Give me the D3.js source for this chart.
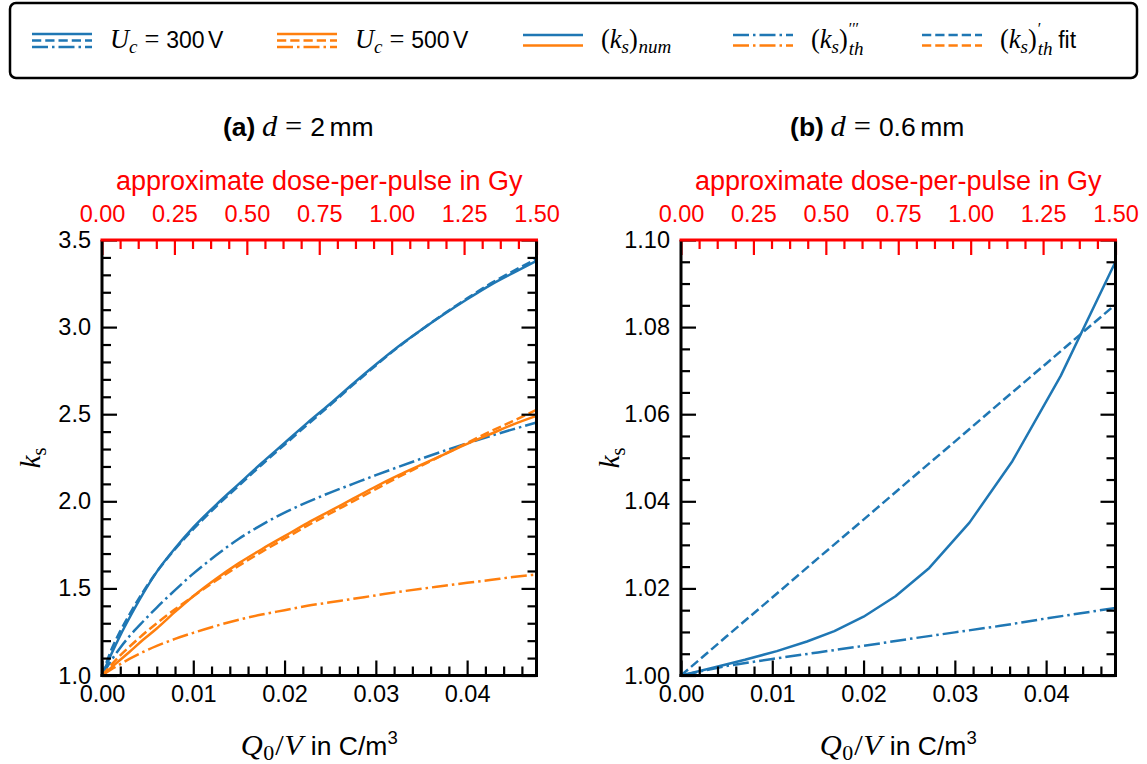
<!DOCTYPE html>
<html><head><meta charset="utf-8">
<script src="https://cdn.jsdelivr.net/npm/d3@7"></script>
<style>body{margin:0;background:#fff}</style>
</head><body><svg id="c" width="1147" height="764"></svg>
<script>
// ---------------- data ----------------
const xTicks=[0,0.01,0.02,0.03,0.04];
const xMax=0.0476;
const doseTicks=[0,0.25,0.5,0.75,1.0,1.25,1.5];
const doseMax=1.5;
const yTicksA=[1.0,1.5,2.0,2.5,3.0,3.5];
const yTicksB=[1.00,1.02,1.04,1.06,1.08,1.10];

// panel (a): d = 2 mm
const xA=[0,0.001,0.002,0.003,0.0045,0.006,0.008,0.010,0.0125,0.015,0.0175,0.020,0.0225,0.025,0.0275,0.030,0.0325,0.035,0.0375,0.040,0.0425,0.045,0.0476];
const numA300=[1.0,1.12,1.23,1.33,1.47,1.595,1.73,1.85,1.98,2.10,2.22,2.335,2.45,2.56,2.675,2.785,2.89,2.985,3.075,3.16,3.24,3.31,3.38];
const fitA300=[1.0,1.145,1.255,1.35,1.48,1.595,1.725,1.84,1.97,2.09,2.21,2.325,2.44,2.552,2.668,2.78,2.887,2.985,3.078,3.165,3.248,3.32,3.392];
const thA300=[1.0,1.085,1.16,1.225,1.31,1.39,1.49,1.585,1.69,1.785,1.865,1.935,1.995,2.05,2.10,2.15,2.198,2.245,2.29,2.333,2.374,2.413,2.452];
const numA500=[1.0,1.045,1.09,1.135,1.205,1.27,1.365,1.455,1.555,1.645,1.725,1.80,1.875,1.945,2.015,2.085,2.15,2.21,2.27,2.33,2.385,2.44,2.49];
const fitA500=[1.0,1.06,1.115,1.165,1.235,1.30,1.38,1.455,1.545,1.63,1.71,1.785,1.86,1.93,2.00,2.07,2.14,2.205,2.27,2.335,2.40,2.46,2.525];
const thA500=[1.0,1.035,1.065,1.095,1.135,1.17,1.21,1.245,1.285,1.32,1.35,1.375,1.40,1.42,1.44,1.46,1.48,1.498,1.515,1.532,1.548,1.565,1.58];

// panel (b): d = 0.6 mm (only U_c = 300 V)
const xBnum=[0,0.0035,0.007,0.0105,0.0138,0.0168,0.0200,0.0235,0.0272,0.0316,0.0363,0.0416,0.0476];
const numB300=[1.0,1.0018,1.0036,1.0056,1.0078,1.0102,1.0135,1.0182,1.0247,1.0351,1.0492,1.0688,1.0950];
const xB=[0,0.005,0.01,0.015,0.02,0.025,0.03,0.035,0.04,0.0476];
const thB300=[1.0,1.0022,1.0038,1.0053,1.0068,1.0084,1.0099,1.0114,1.0131,1.0155];
const fitB300=[1.0,1.0090,1.0179,1.0269,1.0358,1.0448,1.0537,1.0627,1.0716,1.0852];

const colors={"300":"#1f77b4","500":"#ff7f0e"};
const dashes={num:null,th:"16,4,2.5,4",fit:"9.25,4"};

// ---------------- helpers ----------------
const svg=d3.select("#c");
const SANS='"Liberation Sans", Arial, Helvetica, sans-serif';
const SERIF='"Liberation Serif", "Times New Roman", serif';
const SERIF_SCALE=1.15;

function rich(parent,x,y,runs,size,anchor,fill){
  const t=parent.append("text").attr("fill",fill||"#000");
  let cx=0,prevStart=0;
  runs.forEach(r=>{
    const serif=r.f==="serif";
    const fs=size*(r.s||1)*(serif?SERIF_SCALE:1);
    const start=(r.stack?prevStart:cx)+(r.dx||0)*size;
    const ts=t.append("tspan").attr("x",start).attr("y",(r.dy||0)*size)
      .attr("font-family",serif?SERIF:SANS)
      .attr("font-style",r.it?"italic":"normal")
      .attr("font-weight",r.b?"bold":"normal")
      .attr("font-size",fs).text(r.t);
    const w=ts.node().getComputedTextLength();
    prevStart=start;
    cx=Math.max(cx,start+w);
  });
  const off=anchor==="middle"?-cx/2:anchor==="end"?-cx:0;
  t.attr("transform",`translate(${x+off},${y})`);
  return {t,width:cx};
}

function minorTicks(d0,d1,step){
  const n=Math.round((d1-d0)/step);
  const out=[];
  for(let i=0;i<=n;i++){const v=d0+i*step; if(v<=d1+1e-9) out.push(+v.toFixed(6));}
  return out;
}

const panels=[
  {id:"a",left:102,right:536.5,top:240,bottom:675.5,yDom:[1.0,3.5],yTicks:yTicksA,yMinor:0.1,yFmt:d3.format(".1f"),
   title:"(a)",dval:"2",smooth:true,
   series:[
     {x:xA,y:numA300,c:"300",k:"num"},{x:xA,y:fitA300,c:"300",k:"fit"},{x:xA,y:thA300,c:"300",k:"th"},
     {x:xA,y:numA500,c:"500",k:"num"},{x:xA,y:fitA500,c:"500",k:"fit"},{x:xA,y:thA500,c:"500",k:"th"}]},
  {id:"b",left:681,right:1115.5,top:240,bottom:675.5,yDom:[1.0,1.1],yTicks:yTicksB,yMinor:0.005,yFmt:d3.format(".2f"),
   title:"(b)",dval:"0.6",smooth:false,
   series:[
     {x:xBnum,y:numB300,c:"300",k:"num"},{x:xB,y:fitB300,c:"300",k:"fit"},{x:xB,y:thB300,c:"300",k:"th"}]}
];

const TICK=23.5, MAJ=15, MIN=9, TW=2.2, SPINE=3;

panels.forEach(p=>{
  const x=d3.scaleLinear().domain([0,xMax]).range([p.left,p.right]);
  const xd=d3.scaleLinear().domain([0,doseMax]).range([p.left,p.right]);
  const y=d3.scaleLinear().domain(p.yDom).range([p.bottom,p.top]);
  const g=svg.append("g");

  const cid="clip"+p.id;
  svg.append("defs").append("clipPath").attr("id",cid).append("rect")
    .attr("x",p.left).attr("y",p.top).attr("width",p.right-p.left).attr("height",p.bottom-p.top);

  const lg=g.append("g").attr("clip-path",`url(#${cid})`);
  const line=d3.line().x(d=>x(d[0])).y(d=>y(d[1])).curve(p.smooth?d3.curveMonotoneX:d3.curveLinear);
  p.series.forEach(s=>{
    const pts=s.x.map((v,i)=>[v,s.y[i]]);
    lg.append("path").datum(pts).attr("d",line)
      .attr("fill","none").attr("stroke",colors[s.c]).attr("stroke-width",2.5)
      .attr("stroke-dasharray",dashes[s.k]).attr("stroke-linejoin","round");
  });

  function styleAxis(sel,color,showText){
    sel.select(".domain").remove();
    sel.selectAll(".tick line").attr("stroke",color).attr("stroke-width",TW);
    sel.selectAll(".tick text").attr("font-family",SANS).attr("font-size",TICK).attr("fill",color);
    if(!showText) sel.selectAll(".tick text").remove();
  }
  const xMinorVals=minorTicks(0,xMax,0.002).filter(v=>!xTicks.some(t=>Math.abs(t-v)<1e-9));
  const yMinorVals=minorTicks(p.yDom[0],p.yDom[1],p.yMinor).filter(v=>!p.yTicks.some(t=>Math.abs(t-v)<1e-9));
  const dMinorVals=minorTicks(0,doseMax,0.0625).filter(v=>!doseTicks.some(t=>Math.abs(t-v)<1e-9));

  g.append("g").attr("transform",`translate(0,${p.bottom})`)
    .call(d3.axisBottom(x).tickValues(xTicks).tickFormat(d3.format(".2f")).tickSizeInner(-MAJ).tickSizeOuter(0).tickPadding(10))
    .call(s=>styleAxis(s,"#000",true));
  g.append("g").attr("transform",`translate(0,${p.bottom})`)
    .call(d3.axisBottom(x).tickValues(xMinorVals).tickFormat("").tickSizeInner(-MIN).tickSizeOuter(0))
    .call(s=>styleAxis(s,"#000",false));
  g.append("g").attr("transform",`translate(${p.left},0)`)
    .call(d3.axisLeft(y).tickValues(p.yTicks).tickFormat(p.yFmt).tickSizeInner(-MAJ).tickSizeOuter(0).tickPadding(11))
    .call(s=>styleAxis(s,"#000",true));
  g.append("g").attr("transform",`translate(${p.left},0)`)
    .call(d3.axisLeft(y).tickValues(yMinorVals).tickFormat("").tickSizeInner(-MIN).tickSizeOuter(0))
    .call(s=>styleAxis(s,"#000",false));
  g.append("g").attr("transform",`translate(${p.right},0)`)
    .call(d3.axisRight(y).tickValues(p.yTicks).tickFormat("").tickSizeInner(-MAJ).tickSizeOuter(0))
    .call(s=>styleAxis(s,"#000",false));
  g.append("g").attr("transform",`translate(${p.right},0)`)
    .call(d3.axisRight(y).tickValues(yMinorVals).tickFormat("").tickSizeInner(-MIN).tickSizeOuter(0))
    .call(s=>styleAxis(s,"#000",false));
  g.append("g").attr("transform",`translate(0,${p.top})`)
    .call(d3.axisTop(xd).tickValues(doseTicks).tickFormat(d3.format(".2f")).tickSizeInner(-MAJ).tickSizeOuter(0).tickPadding(18))
    .call(s=>styleAxis(s,"#ff0000",true));
  g.append("g").attr("transform",`translate(0,${p.top})`)
    .call(d3.axisTop(xd).tickValues(dMinorVals).tickFormat("").tickSizeInner(-MIN).tickSizeOuter(0))
    .call(s=>styleAxis(s,"#ff0000",false));

  g.append("line").attr("x1",p.left).attr("x2",p.left).attr("y1",p.top).attr("y2",p.bottom+SPINE/2).attr("stroke","#000").attr("stroke-width",SPINE);
  g.append("line").attr("x1",p.right).attr("x2",p.right).attr("y1",p.top).attr("y2",p.bottom+SPINE/2).attr("stroke","#000").attr("stroke-width",SPINE);
  g.append("line").attr("x1",p.left-SPINE/2).attr("x2",p.right+SPINE/2).attr("y1",p.bottom).attr("y2",p.bottom).attr("stroke","#000").attr("stroke-width",SPINE);
  g.append("line").attr("x1",p.left-SPINE/2).attr("x2",p.right+SPINE/2).attr("y1",p.top).attr("y2",p.top).attr("stroke","#ff0000").attr("stroke-width",SPINE);

  const cxp=(p.left+p.right)/2;
  rich(svg,cxp-21,136,[
    {t:p.title,b:true},
    {t:"d",f:"serif",it:true,dx:0.25},
    {t:"=",f:"serif",dx:0.3},
    {t:p.dval,dx:0.3},
    {t:"mm",dx:0.17}],26.5,"middle");
  rich(svg,cxp,190,[{t:"approximate dose-per-pulse in Gy"}],27,"middle","#ff0000");
  rich(svg,cxp,755,[
    {t:"Q",f:"serif",it:true},
    {t:"0",f:"serif",s:0.72,dy:0.2,dx:0.02},
    {t:"/",f:"serif",dx:0.04},
    {t:"V",f:"serif",it:true,dx:0.02},
    {t:"in C/m",dx:0.3},
    {t:"3",s:0.7,dy:-0.42}],26.5,"middle");
  const yl=svg.append("g").attr("transform",`translate(${p.left-62},${(p.top+p.bottom)/2}) rotate(-90)`);
  rich(yl,0,0,[{t:"k",f:"serif",it:true},{t:"s",f:"serif",s:0.72,dy:0.22}],25,"middle");
});

// ---------------- legend ----------------
const legendEntries=[
  {x:32,type:"volt",c:"300",label:[{t:"U",f:"serif",it:true},{t:"c",f:"serif",it:true,s:0.72,dy:0.2},{t:"=",f:"serif",dx:0.3},{t:"300",dx:0.3},{t:"V",dx:0.15}]},
  {x:277,type:"volt",c:"500",label:[{t:"U",f:"serif",it:true},{t:"c",f:"serif",it:true,s:0.72,dy:0.2},{t:"=",f:"serif",dx:0.3},{t:"500",dx:0.3},{t:"V",dx:0.15}]},
  {x:523,type:"num",label:[{t:"(",f:"serif"},{t:"k",f:"serif",it:true},{t:"s",f:"serif",it:true,s:0.72,dy:0.2},{t:")",f:"serif"},{t:"num",f:"serif",it:true,s:0.72,dy:0.2,dx:0.03}]},
  {x:733,type:"th",label:[{t:"(",f:"serif"},{t:"k",f:"serif",it:true},{t:"s",f:"serif",it:true,s:0.72,dy:0.2},{t:")",f:"serif"},{t:"\u2032\u2032\u2032",f:"serif",s:0.6,dy:-0.6,dx:0.04},{t:"th",f:"serif",it:true,s:0.72,dy:0.32,stack:true}]},
  {x:922,type:"fit",label:[{t:"(",f:"serif"},{t:"k",f:"serif",it:true},{t:"s",f:"serif",it:true,s:0.72,dy:0.2},{t:")",f:"serif"},{t:"\u2032",f:"serif",s:0.6,dy:-0.6,dx:0.04},{t:"th",f:"serif",it:true,s:0.72,dy:0.32,stack:true},{t:"fit",dx:0.25}]}
];
const leg=svg.append("g");
leg.append("rect").attr("x",10).attr("y",3).attr("width",1127).attr("height",75).attr("rx",6)
  .attr("fill","#fff").attr("stroke","#000").attr("stroke-width",2.5);
const HL=60;
legendEntries.forEach(e=>{
  let rows;
  if(e.type==="volt") rows=[{y:34,c:e.c,d:dashes.num},{y:40.5,c:e.c,d:dashes.fit},{y:47,c:e.c,d:dashes.th}];
  else rows=[{y:35,c:"300",d:dashes[e.type]},{y:45.5,c:"500",d:dashes[e.type]}];
  rows.forEach(r=>{
    leg.append("line").attr("x1",e.x).attr("x2",e.x+HL).attr("y1",r.y).attr("y2",r.y)
      .attr("stroke",colors[r.c]).attr("stroke-width",2.5).attr("stroke-dasharray",r.d);
  });
  rich(leg,e.x+HL+18,48,e.label,23,"start");
});
</script>
</body></html>
